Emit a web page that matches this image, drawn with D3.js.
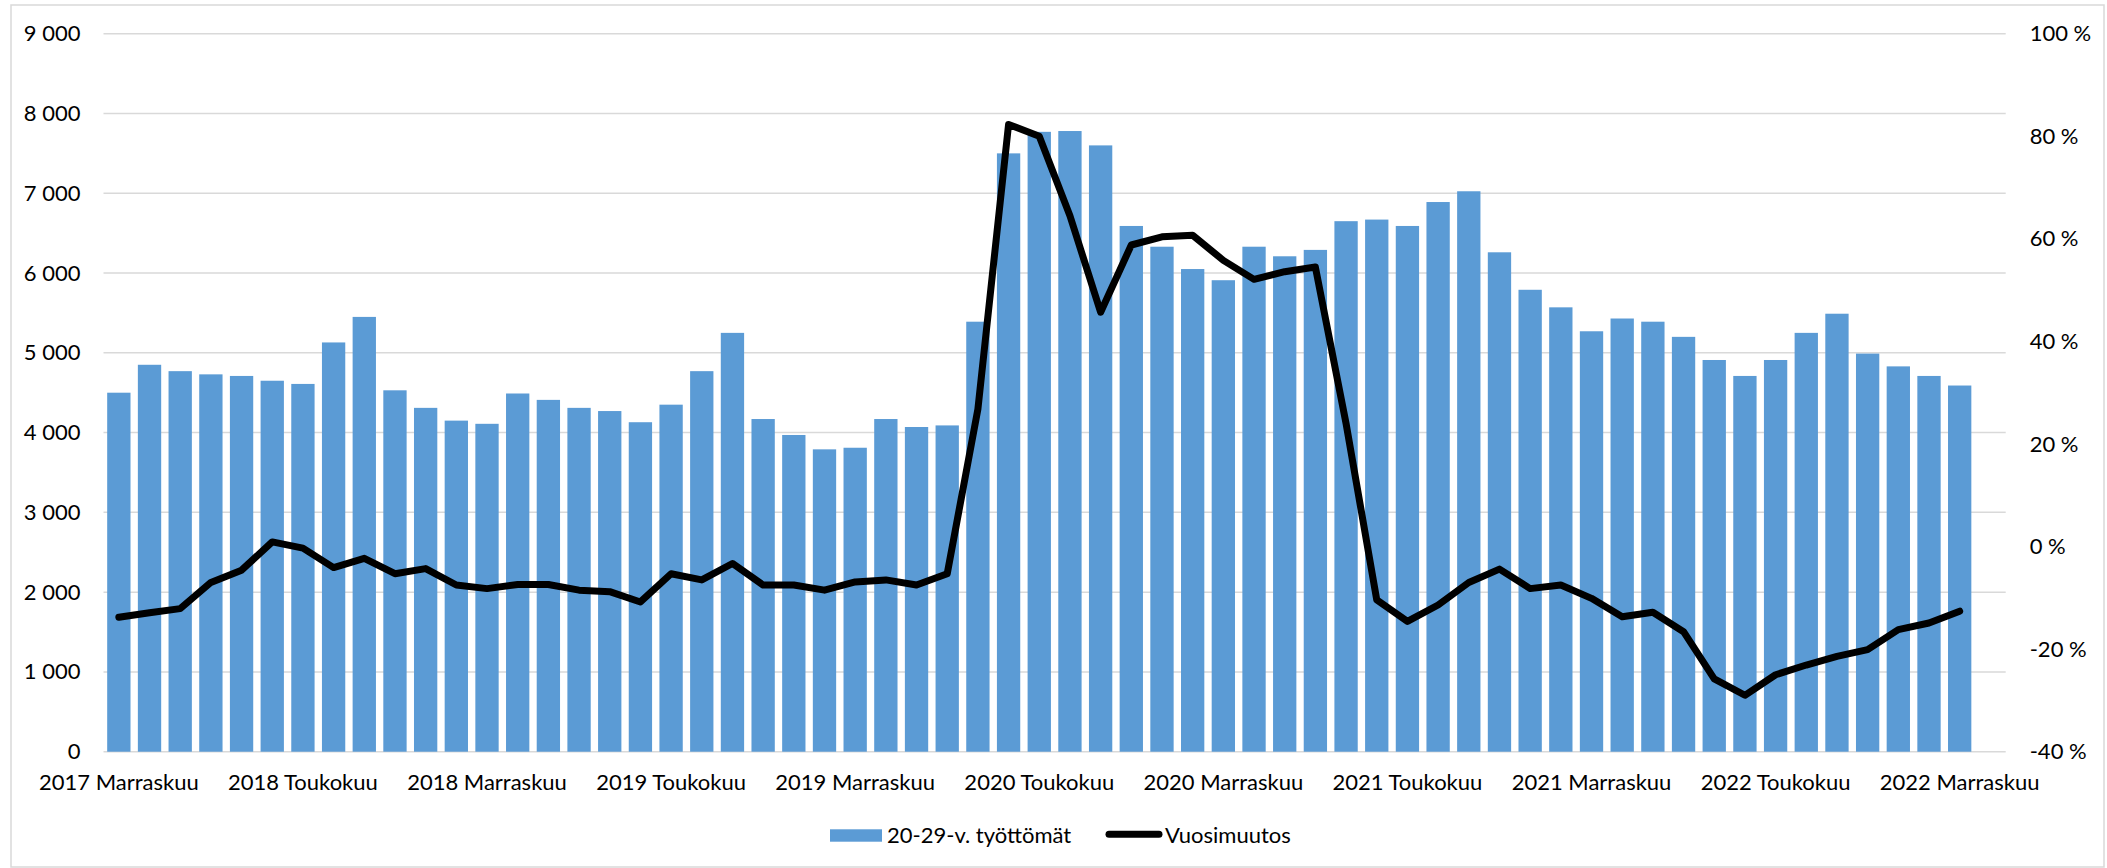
<!DOCTYPE html>
<html lang="fi">
<head>
<meta charset="utf-8">
<script src="https://cdn.jsdelivr.net/npm/d3@7"></script>
<style>
  body { margin: 0; background: #fff; }
  svg { display: block; font-family: Lato, "Open Sans", sans-serif; }
</style>
</head>
<body>
<div id="chart"></div>
<script>
const kuukaudet = ["Tammikuu", "Helmikuu", "Maaliskuu", "Huhtikuu", "Toukokuu", "Kesäkuu",
  "Heinäkuu", "Elokuu", "Syyskuu", "Lokakuu", "Marraskuu", "Joulukuu"];

// 2017 Marraskuu ... 2022 Joulukuu (viimeinen kuukausi ilman arvoa)
const categories = [];
for (let y = 2017; y <= 2022; y++) {
  kuukaudet.forEach((m, i) => {
    if (y === 2017 && i < 10) return;
    categories.push(`${y} ${m}`);
  });
}

const tyottomat = [
  4500, 4850, 4770, 4730, 4710, 4650, 4610, 5130, 5450, 4530,
  4310, 4150, 4110, 4490, 4410, 4310, 4270, 4130, 4350, 4770,
  5250, 4170, 3970, 3790, 3810, 4170, 4070, 4090, 5390, 7500,
  7770, 7780, 7600, 6590, 6330, 6050, 5910, 6330, 6210, 6290,
  6650, 6670, 6590, 6890, 7025, 6260, 5790, 5570, 5270, 5430,
  5390, 5200, 4910, 4710, 4910, 5250, 5490, 4990, 4830, 4710, 4590
];

const vuosimuutos = [
  -13.8, -12.9, -12.1, -7.0, -4.6, 0.9, -0.3, -4.1, -2.3, -5.3,
  -4.3, -7.5, -8.2, -7.4, -7.4, -8.5, -8.8, -10.8, -5.3, -6.5,
  -3.3, -7.5, -7.5, -8.5, -6.9, -6.5, -7.5, -5.3, 26.8, 82.3,
  80.0, 64.5, 45.7, 58.8, 60.4, 60.7, 55.8, 52.1, 53.6, 54.5,
  24.0, -10.4, -14.6, -11.4, -7.0, -4.4, -8.2, -7.5, -10.1, -13.7,
  -12.8, -16.6, -25.8, -29.0, -25.0, -23.1, -21.4, -20.1, -16.2, -14.9, -12.6
];

const leftTicks = d3.range(0, 9001, 1000);
const rightTicks = d3.range(-40, 101, 20);

const width = 2107, height = 868;
const plot = { left: 103.5, right: 2005.7, top: 33.7, bottom: 751.7 };

const svg = d3.select("#chart").append("svg")
  .attr("width", width)
  .attr("height", height);

// kehys
svg.append("rect")
  .attr("x", 11).attr("y", 5)
  .attr("width", 2093).attr("height", 862)
  .attr("fill", "none")
  .attr("stroke", "#d9d9d9")
  .attr("stroke-width", 1.5);

const x = d3.scaleBand()
  .domain(categories)
  .range([plot.left, plot.right])
  .paddingInner(0.24)
  .paddingOuter(0.12);

const yLeft = d3.scaleLinear().domain([0, 9000]).range([plot.bottom, plot.top]);
const yRight = d3.scaleLinear().domain([-40, 100]).range([plot.bottom, plot.top]);

const fmt = d => d3.format(",")(d).replace(/,/g, " ");

// vaakaviivat
svg.append("g")
  .selectAll("line")
  .data(leftTicks)
  .join("line")
  .attr("x1", plot.left)
  .attr("x2", plot.right)
  .attr("y1", d => yLeft(d))
  .attr("y2", d => yLeft(d))
  .attr("stroke", "#d9d9d9")
  .attr("stroke-width", 1.5);

// vasen akseli
const gLeft = svg.append("g")
  .attr("transform", `translate(${plot.left},0)`)
  .call(d3.axisLeft(yLeft).tickValues(leftTicks).tickSize(0).tickPadding(23).tickFormat(d => fmt(d)));
gLeft.select(".domain").remove();
gLeft.selectAll("text").attr("font-size", 22).attr("fill", "#000").attr("font-family", "Lato");

// oikea akseli
const gRight = svg.append("g")
  .attr("transform", `translate(${plot.right},0)`)
  .call(d3.axisRight(yRight).tickValues(rightTicks).tickSize(0).tickPadding(24).tickFormat(d => d + " %"));
gRight.select(".domain").remove();
gRight.selectAll("text").attr("font-size", 22).attr("fill", "#000").attr("font-family", "Lato");

// palkit
svg.append("g")
  .selectAll("rect")
  .data(tyottomat)
  .join("rect")
  .attr("x", (d, i) => x(categories[i]))
  .attr("y", d => yLeft(d))
  .attr("width", x.bandwidth())
  .attr("height", d => yLeft(0) - yLeft(d))
  .attr("fill", "#5b9bd5");

// x-akseli, joka kuudes kuukausi
const gX = svg.append("g")
  .attr("transform", `translate(0,${plot.bottom})`)
  .call(d3.axisBottom(x)
    .tickValues(categories.filter((c, i) => i % 6 === 0))
    .tickSize(0)
    .tickPadding(23));
gX.select(".domain").remove();
gX.selectAll("text").attr("font-size", 22).attr("fill", "#000").attr("font-family", "Lato");

// vuosimuutos-viiva
const line = d3.line()
  .x((d, i) => x(categories[i]) + x.bandwidth() / 2)
  .y(d => yRight(d));

svg.append("path")
  .datum(vuosimuutos)
  .attr("d", line)
  .attr("fill", "none")
  .attr("stroke", "#000")
  .attr("stroke-width", 7)
  .attr("stroke-linejoin", "round")
  .attr("stroke-linecap", "round");

// selite
const legend = svg.append("g").attr("font-size", 22).attr("font-family", "Lato");
legend.append("rect")
  .attr("x", 830).attr("y", 829.3)
  .attr("width", 52).attr("height", 12.4)
  .attr("fill", "#5b9bd5");
legend.append("text")
  .attr("x", 887).attr("y", 835)
  .attr("dy", "0.35em")
  .text("20-29-v. työttömät");
legend.append("line")
  .attr("x1", 1109).attr("x2", 1159)
  .attr("y1", 834.3).attr("y2", 834.3)
  .attr("stroke", "#000")
  .attr("stroke-width", 7)
  .attr("stroke-linecap", "round");
legend.append("text")
  .attr("x", 1165).attr("y", 835)
  .attr("dy", "0.35em")
  .text("Vuosimuutos");
</script>
</body>
</html>
